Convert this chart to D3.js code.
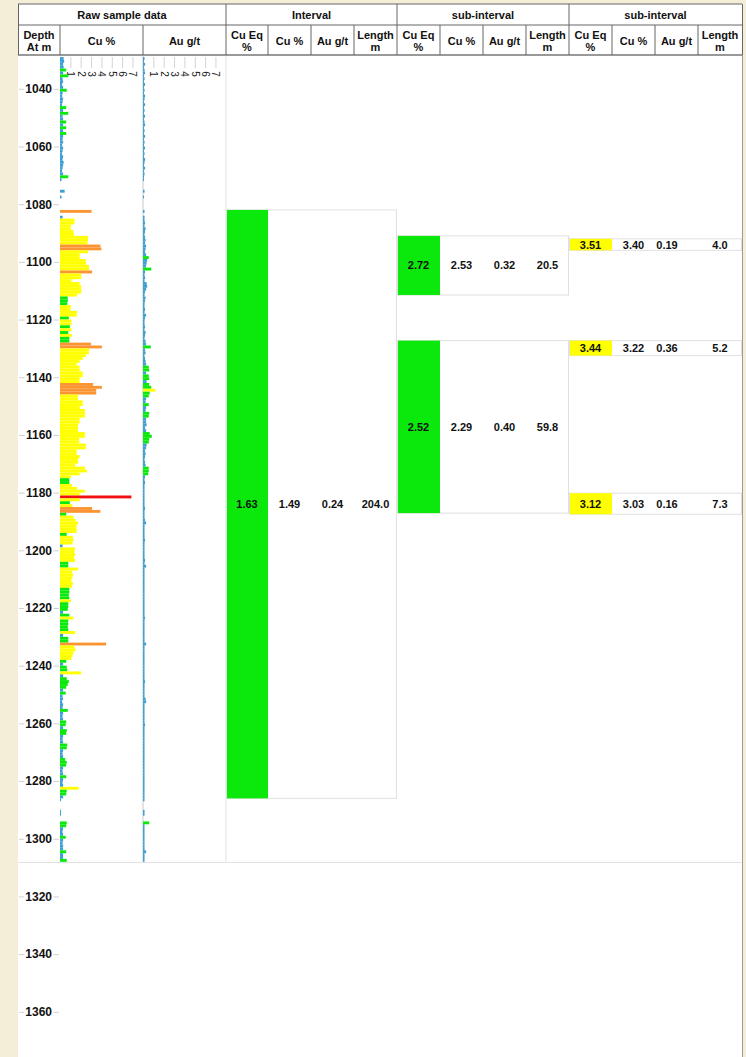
<!DOCTYPE html>
<html>
<head>
<meta charset="utf-8">
<script src="https://cdn.jsdelivr.net/npm/d3@7"></script>
<style>
  html, body { margin: 0; padding: 0; background: #f4eed8; }
  svg { display: block; font-family: Arial, "Liberation Sans", sans-serif; }
</style>
</head>
<body>
<svg id="chart" width="746" height="1057"></svg>
<script>
// ---------------- data ----------------
// Raw assays, one sample per metre starting at this depth
const FIRST_SAMPLE_DEPTH = 1029;
const SAMPLE_LENGTH = 1;

// Cu % per sample (null = no sample)
const cuPct = [
  0.35,0.4,0.3,0.35,0.6,0.3,0.8,0.25,0.3,0.2,      // 1029
  0.3,0.65,0.25,0.2,0.3,0.25,0.2,0.6,0.3,0.8,      // 1039
  0.25,0.3,0.6,0.3,0.6,0.3,0.6,0.3,0.25,0.3,       // 1049
  0.2,0.3,0.25,0.2,0.3,0.25,0.35,0.3,0.25,0.2,     // 1059
  0.3,0.8,0.15,null,null,null,0.45,null,0.15,null, // 1069
  null,null,null,3.05,null,0.25,1.4,1.4,1.05,1.05, // 1079
  1.3,1.35,2.7,2.7,2.65,3.9,4.0,2.7,1.9,1.9,       // 1089
  2.5,2.5,2.8,2.8,3.1,2.05,2.05,1.1,1.9,2.05,      // 1099
  2.05,2.05,1.65,0.75,0.75,0.7,1.05,1.0,1.65,1.6,  // 1109
  0.85,1.1,1.1,0.95,1.1,0.8,1.15,0.9,0.9,3.0,      // 1119
  4.05,2.8,2.8,2.5,2.2,1.9,1.6,1.9,1.9,2.2,        // 1129
  2.2,1.9,1.9,3.2,4.05,3.5,3.5,1.75,1.75,2.2,      // 1139
  2.2,1.9,2.4,2.4,2.4,1.9,1.9,1.75,1.75,1.75,      // 1149
  2.4,2.4,1.85,1.85,2.5,2.5,1.6,1.6,1.9,1.75,      // 1159
  1.75,1.45,2.4,2.6,1.9,1.05,0.9,0.9,1.15,1.65,    // 1169
  2.4,1.9,6.9,1.9,0.95,1.2,3.1,3.9,0.6,1.3,        // 1179
  1.5,1.75,1.6,1.6,1.6,0.65,1.25,1.3,1.2,0.25,     // 1189
  1.45,1.4,1.45,1.35,1.45,0.8,0.8,1.75,1.15,1.25,  // 1199
  1.2,1.1,1.25,1.15,0.9,0.9,0.85,0.9,1.05,0.8,     // 1209
  0.8,0.75,0.3,0.9,1.3,0.8,0.8,0.75,0.8,1.45,      // 1219
  0.3,0.8,0.8,4.45,1.4,1.5,1.3,1.2,1.1,0.6,        // 1229
  0.3,0.65,0.7,2.05,0.3,0.65,0.85,0.75,0.6,0.3,    // 1239
  0.55,0.25,0.3,0.2,0.3,0.25,0.75,0.3,0.25,0.3,    // 1249
  0.6,0.55,0.3,0.65,0.6,0.3,0.25,0.3,0.7,0.65,     // 1259
  0.3,0.25,0.3,0.5,0.65,0.6,0.3,0.25,0.3,0.6,      // 1269
  0.3,0.25,0.3,1.8,0.65,0.6,0.3,0.1,null,null,     // 1279
  null,0.1,0.1,null,null,0.65,0.6,0.3,0.25,0.3,    // 1289
  0.55,0.3,0.25,0.3,0.3,0.6,0.3,0.3,0.65           // 1299
];

// Au g/t per sample (null = no sample)
const auGpt = [
  0.15,0.1,0.2,0.1,0.15,0.2,0.1,0.15,0.1,0.2,      // 1029
  0.1,0.15,0.1,0.2,0.15,0.1,0.2,0.1,0.15,0.1,      // 1039
  0.2,0.1,0.15,0.2,0.1,0.15,0.1,0.2,0.1,0.15,      // 1049
  0.1,0.2,0.1,0.15,0.1,0.2,0.15,0.1,0.2,0.1,       // 1059
  0.15,0.1,0.1,null,null,null,0.15,null,0.1,null,  // 1069
  null,null,null,0.15,null,0.15,0.15,0.2,0.15,0.25,// 1079
  0.2,0.15,0.2,0.25,0.2,0.3,0.25,0.2,0.3,0.55,     // 1089
  0.4,0.35,0.3,0.8,0.2,0.15,0.2,0.15,0.35,0.4,     // 1099
  0.3,0.2,0.15,0.25,0.2,0.15,0.15,0.2,0.15,0.3,    // 1109
  0.2,0.15,0.15,0.2,0.15,0.25,0.2,0.15,0.25,0.3,   // 1119
  0.75,0.2,0.25,0.15,0.2,0.25,0.3,0.55,0.6,0.3,    // 1129
  0.55,0.6,0.35,0.6,0.8,1.2,0.65,0.55,0.3,0.25,    // 1139
  0.55,0.3,0.25,0.6,0.55,0.3,0.3,0.35,0.2,0.3,     // 1149
  0.65,0.85,0.6,0.55,0.35,0.3,0.2,0.25,0.2,0.15,   // 1159
  0.2,0.25,0.55,0.55,0.5,0.2,0.15,0.2,0.15,0.15,   // 1169
  0.15,0.15,0.15,0.15,0.15,0.15,0.2,0.15,0.15,0.15,// 1179
  0.2,0.3,0.15,0.15,0.15,0.15,0.15,0.2,0.15,0.15,  // 1189
  0.15,0.15,0.15,0.15,0.2,0.15,0.3,0.15,0.15,0.15, // 1199
  0.15,0.15,0.15,0.15,0.15,0.15,0.15,0.15,0.15,0.15,// 1209
  0.15,0.15,0.15,0.15,0.2,0.15,0.15,0.15,0.15,0.15,// 1219
  0.15,0.15,0.15,0.3,0.15,0.15,0.15,0.15,0.15,0.15,// 1229
  0.15,0.15,0.15,0.15,0.15,0.15,0.2,0.15,0.15,0.15,// 1239
  0.15,0.15,0.25,0.3,0.15,0.15,0.15,0.15,0.15,0.15,// 1249
  0.15,0.2,0.15,0.15,0.15,0.15,0.15,0.15,0.15,0.15,// 1259
  0.15,0.15,0.15,0.15,0.15,0.15,0.15,0.15,0.15,0.15,// 1269
  0.15,0.15,0.15,0.15,0.15,0.15,0.15,0.15,null,null,// 1279
  null,0.15,0.15,null,null,0.6,0.15,0.15,0.15,0.15, // 1289
  0.15,0.15,0.15,0.15,0.15,0.3,0.15,0.15,0.15       // 1299
];

const depthTicks = [1040,1060,1080,1100,1120,1140,1160,1180,1200,1220,1240,1260,1280,1300,1320,1340,1360];
const gradeTicks = [1,2,3,4,5,6,7];

// Composited intervals
const intervalFrom   = [1082];
const intervalLength = [204.0];
const intervalCuEq   = [1.63];
const intervalCu     = [1.49];
const intervalAu     = [0.24];

const subFrom   = [1091, 1127.3];
const subLength = [20.5, 59.8];
const subCuEq   = [2.72, 2.52];
const subCu     = [2.53, 2.29];
const subAu     = [0.32, 0.40];

const highFrom   = [1092, 1127.3, 1180.2];
const highLength = [4.0, 5.2, 7.3];
const highCuEq   = [3.51, 3.44, 3.12];
const highCu     = [3.40, 3.22, 3.03];
const highAu     = [0.19, 0.36, 0.16];

const groupTitles = ["Raw sample data", "Interval", "sub-interval", "sub-interval"];
const columnTitles = [
  ["Depth","At m"], ["Cu %"], ["Au g/t"],
  ["Cu Eq","%"], ["Cu %"], ["Au g/t"], ["Length","m"],
  ["Cu Eq","%"], ["Cu %"], ["Au g/t"], ["Length","m"],
  ["Cu Eq","%"], ["Cu %"], ["Au g/t"], ["Length","m"]
];

// ---------------- layout ----------------
const svg = d3.select("#chart");
const colX = [18,60,143,226,268,311,354,397,440,483,526,569,612,655,698,742];
const groupSpan = [[0,3],[3,7],[7,11],[11,15]];
const headTop = 4, headMid = 25, headBot = 55;
const plotBottom = 862.5;

const y = d3.scaleLinear().domain([1040, 1360]).range([88.8, 1011.8]);
const xCu = d3.scaleLinear().domain([0, 8]).range([colX[1], colX[1] + 82.8]);
const xAu = d3.scaleLinear().domain([0, 8]).range([colX[2], colX[2] + 82.8]);

const gradeColor = d3.scaleThreshold()
  .domain([0.5, 1, 3, 5])
  .range(["#3d9fd3", "#0be80b", "#ffff00", "#fb9433", "#f01010"]);
const GREEN = "#0be80b", YELLOW = "#ffff00";

// white sheet
svg.append("rect").attr("x", 18).attr("y", headTop).attr("width", 724).attr("height", 1057 - headTop).attr("fill", "#fff");

// light frame lines of the body
svg.append("line").attr("x1", colX[3]).attr("x2", colX[3]).attr("y1", headBot).attr("y2", plotBottom).attr("stroke", "#e2e2e2");
svg.append("line").attr("x1", colX[2]).attr("x2", colX[2]).attr("y1", headBot).attr("y2", plotBottom).attr("stroke", "#c8c8c8");
svg.append("line").attr("x1", 18).attr("x2", 742).attr("y1", plotBottom).attr("y2", plotBottom).attr("stroke", "#e2e2e2");
svg.append("line").attr("x1", 742.5).attr("x2", 742.5).attr("y1", headTop).attr("y2", 1057).attr("stroke", "#9a9a9a");

// ---------------- depth axis ----------------
const depthAxis = svg.append("g")
  .attr("transform", `translate(${colX[1] - 1},0)`)
  .call(d3.axisLeft(y).tickValues(depthTicks).tickSize(40).tickPadding(-33).tickFormat(d3.format("d")));
depthAxis.select(".domain").remove();
depthAxis.selectAll(".tick line").attr("stroke", "#cfcfcf");
depthAxis.selectAll(".tick text")
  .attr("font-size", 12).attr("font-weight", "bold").attr("fill", "#111")
  .attr("stroke", "#fff").attr("stroke-width", 4).attr("paint-order", "stroke")
  .attr("font-family", "Arial, 'Liberation Sans', sans-serif");

// ---------------- grade scales (top of columns) ----------------
function gradeAxis(scale) {
  const g = svg.append("g")
    .attr("transform", `translate(0,${headBot + 2})`)
    .call(d3.axisBottom(scale).tickValues(gradeTicks).tickSize(11).tickFormat(d3.format("d")));
  g.select(".domain").remove();
  g.selectAll(".tick line").attr("stroke", "#d4d4d4");
  g.selectAll(".tick text")
    .attr("y", null).attr("dy", null)
    .attr("transform", "translate(0,17) rotate(90)")
    .attr("text-anchor", "middle").attr("dominant-baseline", "central")
    .attr("font-size", 10).attr("fill", "#222")
    .attr("font-family", "Arial, 'Liberation Sans', sans-serif");
}
gradeAxis(xCu);
gradeAxis(xAu);

// ---------------- sample bars ----------------
const samples = cuPct.map((cu, i) => ({
  from: FIRST_SAMPLE_DEPTH + i * SAMPLE_LENGTH,
  to: FIRST_SAMPLE_DEPTH + (i + 1) * SAMPLE_LENGTH,
  cu, au: auGpt[i]
}));

function drawBars(key, scale) {
  svg.append("g").selectAll("rect")
    .data(samples.filter(s => s[key] != null))
    .join("rect")
    .attr("x", scale(0))
    .attr("y", d => y(d.from))
    .attr("width", d => scale(d[key]) - scale(0))
    .attr("height", d => y(d.to) - y(d.from))
    .attr("fill", d => gradeColor(d[key]));
}
drawBars("cu", xCu);
drawBars("au", xAu);

// ---------------- composited intervals ----------------
function drawIntervals(first, from, length, cuEq, cu, au, fill, auX) {
  const x0 = colX[first], x1 = colX[first + 4];
  const rows = from.map((f, i) => ({ f, t: f + length[i], cuEq: cuEq[i], cu: cu[i], au: au[i], len: length[i] }));
  const g = svg.append("g");
  const row = g.selectAll("g").data(rows).join("g");
  row.append("rect")
    .attr("x", x0 + 0.5).attr("y", d => y(d.f))
    .attr("width", x1 - x0 - 1).attr("height", d => y(d.t) - y(d.f))
    .attr("fill", "#fff").attr("stroke", "#e0e0e0");
  row.append("rect")
    .attr("x", x0 + 1).attr("y", d => y(d.f))
    .attr("width", colX[first + 1] - x0 - 1).attr("height", d => y(d.t) - y(d.f))
    .attr("fill", fill);
  const cols = [
    { x: (colX[first] + colX[first + 1]) / 2, v: d => d.cuEq.toFixed(2) },
    { x: (colX[first + 1] + colX[first + 2]) / 2, v: d => d.cu.toFixed(2) },
    { x: auX != null ? auX : (colX[first + 2] + colX[first + 3]) / 2, v: d => d.au.toFixed(2) },
    { x: (colX[first + 3] + colX[first + 4]) / 2, v: d => d.len.toFixed(1) }
  ];
  cols.forEach(c => {
    row.append("text")
      .attr("x", c.x).attr("y", d => (y(d.f) + y(d.t)) / 2)
      .attr("text-anchor", "middle").attr("dominant-baseline", "central")
      .attr("font-size", 11).attr("font-weight", "bold").attr("fill", "#111")
      .text(c.v);
  });
}
drawIntervals(3, intervalFrom, intervalLength, intervalCuEq, intervalCu, intervalAu, GREEN);
drawIntervals(7, subFrom, subLength, subCuEq, subCu, subAu, GREEN);
drawIntervals(11, highFrom, highLength, highCuEq, highCu, highAu, YELLOW, 667);

// ---------------- header table ----------------
const head = svg.append("g");
head.append("rect").attr("x", 18).attr("y", headTop).attr("width", 724).attr("height", headBot - headTop)
  .attr("fill", "#fff");
// group titles
groupSpan.forEach(([a, b], i) => {
  head.append("text")
    .attr("x", (colX[a] + colX[b]) / 2).attr("y", (headTop + headMid) / 2 + 0.5)
    .attr("text-anchor", "middle").attr("dominant-baseline", "central")
    .attr("font-size", 11).attr("font-weight", "bold").attr("fill", "#111")
    .text(groupTitles[i]);
});
// column titles
columnTitles.forEach((lines, i) => {
  const cx = (colX[i] + colX[i + 1]) / 2;
  const cy = (headMid + headBot) / 2 + 0.5;
  lines.forEach((t, j) => {
    head.append("text")
      .attr("x", cx).attr("y", cy + (j - (lines.length - 1) / 2) * 12)
      .attr("text-anchor", "middle").attr("dominant-baseline", "central")
      .attr("font-size", 11).attr("font-weight", "bold").attr("fill", "#111")
      .text(t);
  });
});
// header rules
const rule = (x1, y1, x2, y2, c, w) => head.append("line")
  .attr("x1", x1).attr("y1", y1).attr("x2", x2).attr("y2", y2)
  .attr("stroke", c).attr("stroke-width", w);
rule(18, headTop, 742, headTop, "#666", 1.2);
rule(18, headMid, 742, headMid, "#666", 1);
rule(18, headBot, 742, headBot, "#999", 2);
rule(18.5, headTop, 18.5, headBot, "#666", 1);
rule(742.5, headTop, 742.5, headBot, "#666", 1);
colX.slice(1, -1).forEach((x, i) => {
  const isGroupEdge = [3, 7, 11].includes(i + 1);
  rule(x, isGroupEdge ? headTop : headMid, x, headBot, "#666", 1);
});
</script>
</body>
</html>
